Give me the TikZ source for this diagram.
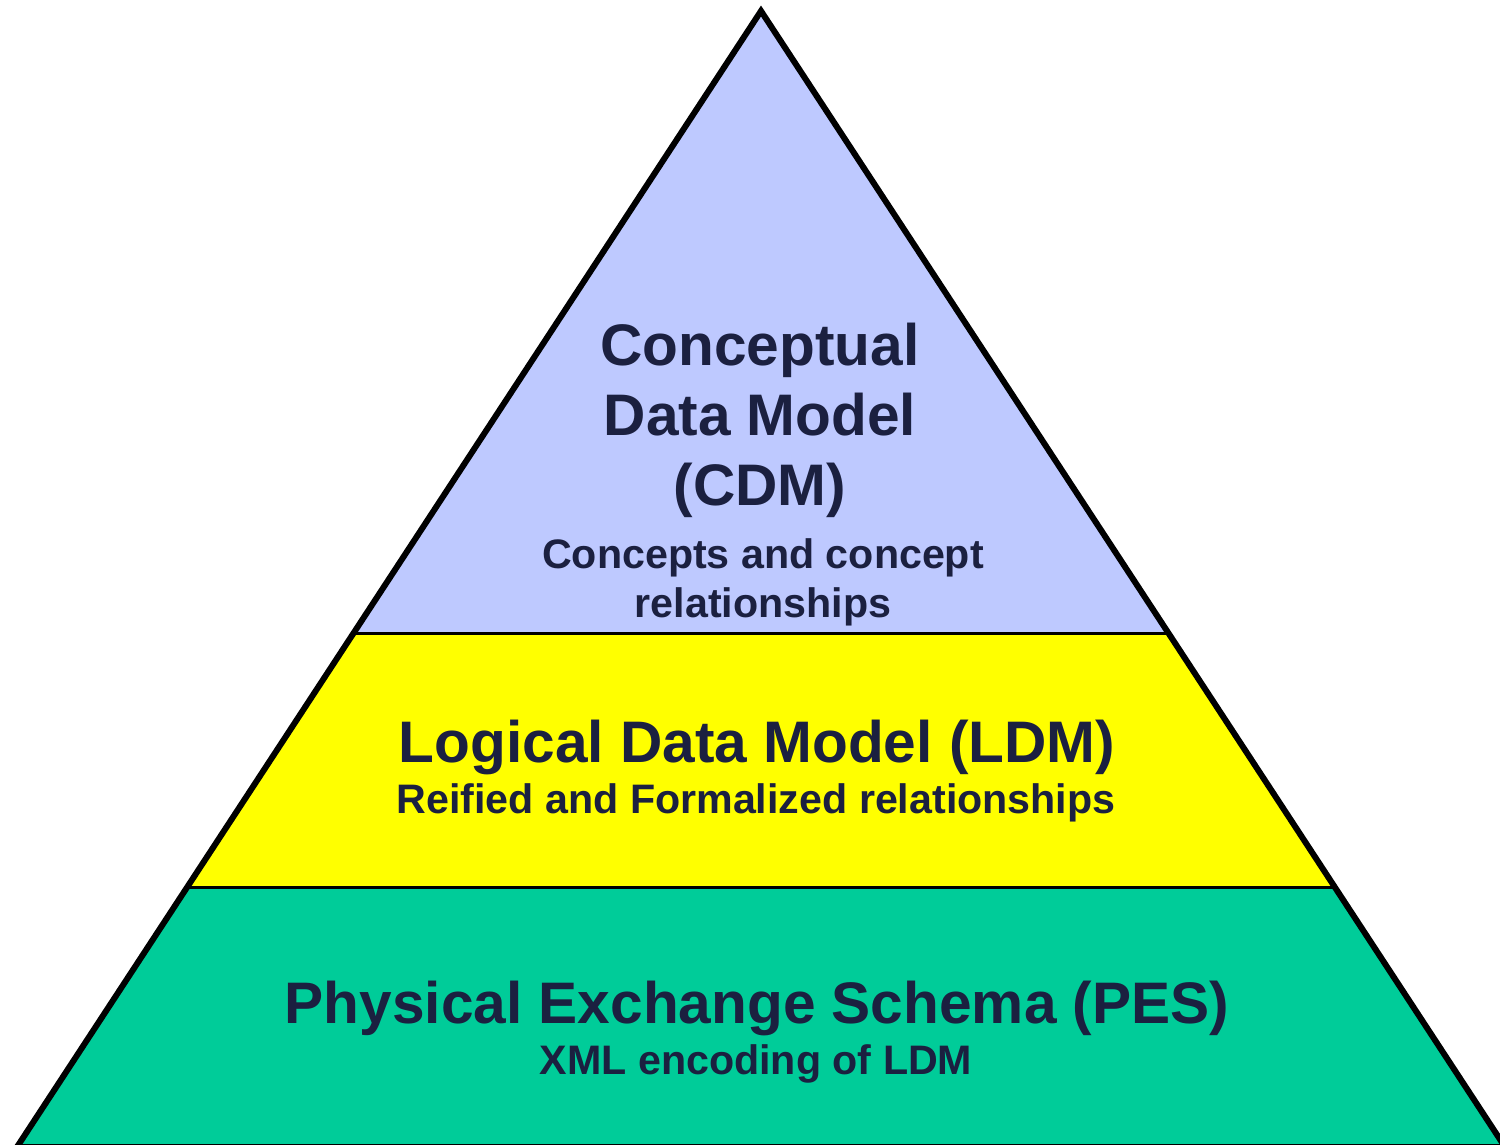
\documentclass[tikz,border=0pt]{standalone}
\usepackage{fontspec}
\setmainfont{Liberation Sans}
\definecolor{inknavy}{RGB}{27,32,64}
\definecolor{cdmblue}{RGB}{190,201,255}
\definecolor{ldmyellow}{RGB}{255,255,0}
\definecolor{pesgreen}{RGB}{0,204,153}
\begin{document}
\begin{tikzpicture}[x=0.5pt, y=-0.5pt,
    title/.style={font=\bfseries\fontsize{29.3}{35}\selectfont, text=inknavy, align=center, anchor=base, inner sep=0pt},
    subtitle/.style={font=\bfseries\fontsize{20.6}{24.5}\selectfont, text=inknavy, align=center, anchor=base, inner sep=0pt}]
    \useasboundingbox (0,0) rectangle (1500,1145);
    \coordinate (apex) at (761,11);
    \coordinate (baseleft) at (17,1147);
    \coordinate (baseright) at (1505,1147);
    % layers, clipped to the pyramid
    \begin{scope}
        \clip (apex) -- (baseleft) -- (baseright) -- cycle;
        \fill[cdmblue] (0,0) rectangle (1510,633);
        \fill[ldmyellow] (0,633) rectangle (1510,887);
        \fill[pesgreen] (0,887) rectangle (1510,1150);
        \draw[line width=1.5pt] (0,633) -- (1510,633);
        \draw[line width=1.5pt] (0,887) -- (1510,887);
    \end{scope}
    \draw[line width=3pt, line join=miter] (apex) -- (baseleft) -- (baseright) -- cycle;
    % texts (base = last line)
    \node[title] (cdm) at (760,505) {Conceptual\\Data Model\\(CDM)};
    \node[subtitle] (cdmsub) at (763,617) {Concepts and concept\\relationships};
    \node[title] (ldm) at (757,762) {Logical Data Model (LDM)};
    \node[subtitle] (ldmsub) at (756,813) {Reified and Formalized relationships};
    \node[title] (pes) at (757,1023) {Physical Exchange Schema (PES)};
    \node[subtitle] (pessub) at (756,1074) {XML encoding of LDM};
\end{tikzpicture}
\end{document}
